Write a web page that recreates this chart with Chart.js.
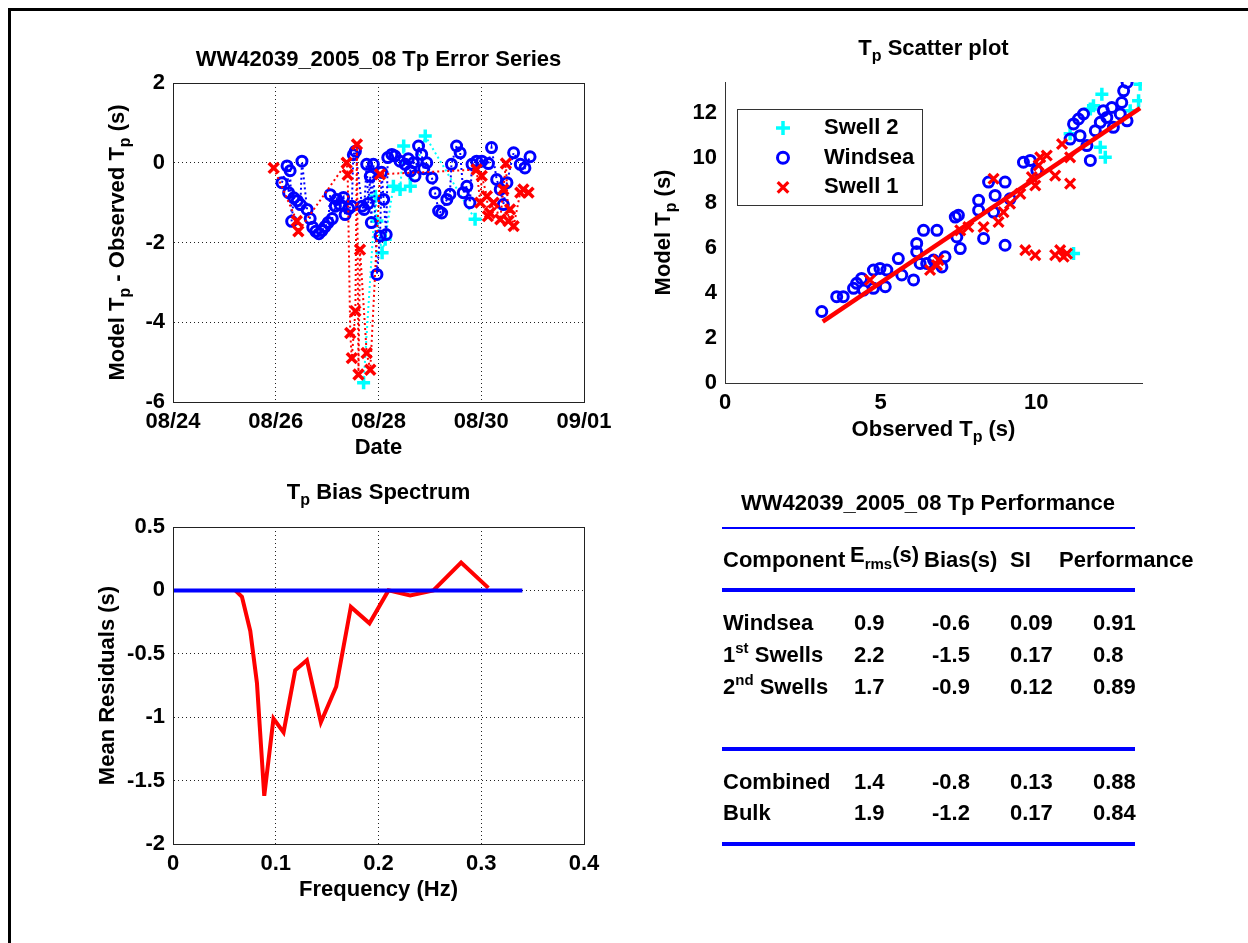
<!DOCTYPE html>
<html>
<head>
<meta charset="utf-8">
<title>WW42039_2005_08 Tp</title>
<script src="https://cdn.jsdelivr.net/npm/chart.js@4.4.0/dist/chart.umd.min.js"></script>
<style>
  body { margin: 0; background: #fff; }
  #page { position: relative; width: 1248px; height: 943px; overflow: hidden; background: #fff;
          font-family: 'Liberation Sans', Arial, Helvetica, sans-serif; font-weight: bold; font-size: 22px; color: #000; }
  #page canvas { position: absolute; left: 0; top: 0; }
  #frame { position: absolute; left: 8px; top: 8px; width: 1400px; height: 1100px;
           border-top: 3px solid #000; border-left: 3px solid #000; }
  .cell { position: absolute; height: 26px; line-height: 26px; white-space: nowrap; }
  .sup { position: relative; top: -9px; font-size: 15px; }
  .sub { position: relative; top: 7px; font-size: 15px; }
  .rule { position: absolute; background: #0000ff; }
</style>
</head>
<body>
<div id="page">
  <div id="frame"></div>
  <canvas id="errChart" width="1248" height="943"></canvas>
  <canvas id="scatChart" width="1248" height="943"></canvas>
  <canvas id="biasChart" width="1248" height="943"></canvas>
  <div id="perf"></div>
</div>
<script>
// ---- error series (day of August, model - observed Tp) ----
const dateTicks = ['08/24', '08/26', '08/28', '08/30', '09/01'];

const windseaDay = [26.12, 26.22, 26.25, 26.28, 26.31, 26.35, 26.42, 26.48, 26.51, 26.61, 26.67, 26.72, 26.78, 26.84, 26.90,
  26.96, 27.02, 27.06, 27.10, 27.16, 27.19, 27.25, 27.32, 27.35, 27.42, 27.48, 27.51, 27.55, 27.68, 27.72, 27.77, 27.80,
  27.84, 27.86, 27.90, 27.97, 28.03, 28.06, 28.10, 28.15, 28.18, 28.26, 28.32, 28.42, 28.52, 28.58, 28.62, 28.68, 28.71,
  28.78, 28.84, 28.88, 28.94, 29.04, 29.10, 29.17, 29.23, 29.33, 29.39, 29.42, 29.52, 29.59, 29.65, 29.72, 29.78, 29.82,
  29.91, 30.01, 30.14, 30.20, 30.30, 30.37, 30.43, 30.50, 30.63, 30.76, 30.85, 30.95];
const windseaErr = [-0.50, -0.08, -0.75, -0.20, -1.47, -0.88, -0.95, -1.05, 0.04, -1.17, -1.40, -1.62, -1.72, -1.78, -1.70,
  -1.60, -1.50, -0.80, -1.40, -1.09, -0.92, -1.05, -0.87, -1.30, -1.15, -1.09, 0.20, 0.29, -1.09, -1.17, -0.04, -1.02,
  -0.34, -1.50, -0.04, -2.80, -1.84, -0.24, -0.92, -1.80, 0.13, 0.21, 0.17, 0.04, -0.04, 0.10, -0.21, 0.00, -0.33,
  0.42, 0.21, -0.15, 0.00, -0.38, -0.75, -1.21, -1.26, -0.92, -0.79, -0.04, 0.42, 0.25, -0.75, -0.59, -1.00, -0.04,
  0.04, 0.04, -0.02, 0.38, -0.42, -0.67, -1.05, -0.50, 0.25, -0.04, -0.13, 0.15];

const swell1Day = [25.96, 26.41, 26.44, 27.38, 27.40, 27.45, 27.48, 27.55, 27.58, 27.61, 27.64, 27.77, 27.84, 28.03,
  29.91, 29.98, 30.01, 30.11, 30.13, 30.17, 30.24, 30.37, 30.43, 30.48, 30.53, 30.56, 30.63, 30.76, 30.82, 30.92];
const swell1Err = [-0.13, -1.46, -1.72, 0.00, -0.30, -4.27, -4.90, -3.72, 0.46, -5.31, -2.18, -4.77, -5.19, -0.29,
  -0.17, -1.00, -0.33, -0.84, -1.34, -1.26, -1.00, -1.42, -0.67, -0.02, -1.46, -1.17, -1.59, -0.75, -0.67, -0.75];

const swell2Day = [27.71, 27.94, 27.97, 28.07, 28.13, 28.29, 28.42, 28.49, 28.62, 28.91, 29.88];
const swell2Err = [-5.52, -0.84, -1.46, -2.26, -1.92, -0.59, -0.67, 0.42, -0.59, 0.67, -1.42];

// ---- scatter (observed Tp vs model Tp) ----
const windseaObs = [3.11, 3.59, 3.80, 4.13, 4.23, 4.39, 4.45, 4.77, 4.77, 4.98, 5.20, 5.15, 5.57, 5.68, 6.06, 6.16, 6.16,
  6.38, 6.27, 6.48, 6.70, 6.81, 6.97, 7.07, 7.40, 7.50, 7.45, 7.56, 8.15, 8.15, 8.31, 8.47, 8.68, 8.63, 9.00, 9.00, 9.16,
  9.59, 9.81, 10.02, 11.09, 11.20, 11.36, 11.52, 11.41, 11.63, 11.74, 11.90, 12.06, 12.16, 12.27, 12.43, 12.48, 12.70,
  12.75, 12.81, 12.92, 12.92];
const windseaMod = [3.17, 3.83, 3.83, 4.20, 4.42, 4.64, 4.12, 5.01, 4.20, 5.08, 5.01, 4.27, 5.52, 4.79, 4.57, 6.19, 5.82,
  6.77, 5.30, 5.30, 5.45, 6.77, 5.15, 5.60, 7.36, 7.44, 6.48, 5.96, 8.10, 7.66, 6.41, 8.91, 8.32, 7.58, 8.91, 6.11, 8.17,
  9.79, 9.87, 9.43, 10.82, 11.49, 11.71, 11.93, 10.97, 10.53, 9.87, 11.19, 11.56, 12.08, 11.78, 12.22, 11.34, 11.93,
  12.44, 12.96, 13.33, 11.63];

const swell1Obs = [4.66, 6.59, 6.86, 6.81, 7.56, 7.82, 8.31, 8.63, 8.79, 8.95, 9.16, 9.49, 9.86, 9.97, 10.08, 10.13,
  10.34, 10.61, 10.83, 11.09, 11.09, 9.65, 9.97, 10.61, 10.77, 10.99, 10.88];
const swell1Mod = [4.57, 5.01, 5.45, 5.23, 6.77, 6.92, 6.92, 9.06, 7.14, 7.58, 7.95, 8.39, 9.13, 8.76, 9.65, 10.01,
  10.09, 9.20, 10.60, 8.84, 10.01, 5.89, 5.67, 5.67, 5.89, 5.74, 5.60];

const swell2Obs = [11.20, 11.09, 11.74, 12.11, 12.06, 12.22, 13.34, 13.29, 13.02, 11.84];
const swell2Mod = [5.74, 11.05, 12.15, 12.81, 10.46, 10.01, 13.25, 12.52, 12.08, 12.30];

const fitObs = [3.14, 13.34];
const fitMod = [2.72, 12.19];

// ---- bias spectrum ----
const biasFreq = [0.0606, 0.0671, 0.0752, 0.0817, 0.0888, 0.0978, 0.1076, 0.1189, 0.1303, 0.1439, 0.1588, 0.1731,
  0.1912, 0.2097, 0.2308, 0.2534, 0.2804, 0.3069];
const biasVal = [0, -0.05, -0.32, -0.73, -1.62, -1.01, -1.12, -0.63, -0.55, -1.04, -0.76, -0.13, -0.26, 0, -0.04, 0,
  0.22, 0.02];
const zeroFreq = [0, 0.34];
const zeroVal = [0, 0];

// ---- performance table ----
const perfComponents = ['Windsea', '1st Swells', '2nd Swells', 'Combined', 'Bulk'];
const perfErms = [0.9, 2.2, 1.7, 1.4, 1.9];
const perfBias = [-0.6, -1.5, -0.9, -0.8, -1.2];
const perfSI = [0.09, 0.17, 0.12, 0.13, 0.17];
const perfScore = [0.91, 0.8, 0.89, 0.88, 0.84];

const pts = (xs, ys) => xs.map((x, i) => ({ x: x, y: ys[i] }));
const plainNum = v => String(+(+v).toFixed(3));

Chart.defaults.font.family = "'Liberation Sans', Arial, Helvetica, sans-serif";
Chart.defaults.font.size = 22;
Chart.defaults.font.weight = 'bold';
Chart.defaults.color = '#000';

const MAIN_FONT = "bold 22px 'Liberation Sans', Arial, sans-serif";
const SUB_FONT = "bold 16px 'Liberation Sans', Arial, sans-serif";

// text with _{sub} parts, centred on (x, y)
function drawRich(ctx, text, x, y, rot) {
  const parts = text.split(/(_\{[^}]*\})/).filter(s => s).map(s =>
    s.startsWith('_{') ? { t: s.slice(2, -1), sub: true } : { t: s, sub: false });
  ctx.save();
  ctx.translate(x, y);
  ctx.rotate(rot || 0);
  ctx.fillStyle = '#000';
  ctx.textBaseline = 'middle';
  ctx.textAlign = 'left';
  let w = 0;
  parts.forEach(p => { ctx.font = p.sub ? SUB_FONT : MAIN_FONT; p.w = ctx.measureText(p.t).width; w += p.w; });
  let cx = -w / 2;
  parts.forEach(p => {
    ctx.font = p.sub ? SUB_FONT : MAIN_FONT;
    ctx.fillText(p.t, cx, p.sub ? 8 : 0);
    cx += p.w;
  });
  ctx.restore();
}

const richText = {
  id: 'richText',
  afterDraw(chart, args, o) {
    const a = chart.chartArea;
    const cx = (a.left + a.right) / 2, cy = (a.top + a.bottom) / 2;
    drawRich(chart.ctx, o.title, cx, o.titleY);
    drawRich(chart.ctx, o.xLabel, cx, o.xLabelY);
    drawRich(chart.ctx, o.yLabel, o.yLabelX, cy, -Math.PI / 2);
  }
};

const boxFrame = {
  id: 'boxFrame',
  afterDraw(chart) {
    const a = chart.chartArea, ctx = chart.ctx;
    ctx.save();
    ctx.strokeStyle = '#222';
    ctx.lineWidth = 1;
    ctx.strokeRect(Math.round(a.left) + 0.5, Math.round(a.top) + 0.5,
      Math.round(a.right - a.left), Math.round(a.bottom - a.top));
    ctx.restore();
  }
};

const boxLegend = {
  id: 'boxLegend',
  afterDraw(chart, args, o) {
    const a = chart.chartArea, ctx = chart.ctx;
    const x0 = a.left + o.dx, y0 = a.top + o.dy;
    ctx.save();
    ctx.fillStyle = '#fff';
    ctx.fillRect(x0, y0, o.w, o.h);
    ctx.strokeStyle = '#333';
    ctx.lineWidth = 1;
    ctx.strokeRect(Math.round(x0) + 0.5, Math.round(y0) + 0.5, o.w, o.h);
    const items = chart.data.datasets.filter(d => d.label).reverse();
    items.forEach((d, i) => {
      const y = y0 + 19 + i * 29.7;
      ctx.strokeStyle = d.borderColor;
      ctx.fillStyle = d.backgroundColor;
      ctx.lineWidth = d.pointBorderWidth;
      Chart.helpers.drawPoint(ctx, { pointStyle: d.pointStyle, radius: d.pointRadius + 0.5,
        borderWidth: d.pointBorderWidth, rotation: 0 }, x0 + 46, y);
      ctx.fillStyle = '#000';
      ctx.font = MAIN_FONT;
      ctx.textBaseline = 'middle';
      ctx.fillText(d.label, x0 + 87, y);
    });
    ctx.restore();
  }
};

const dotted = { dash: [1, 3], color: '#222' };
const baseOpts = {
  responsive: false, animation: false, events: [],
  plugins: { legend: { display: false }, tooltip: { enabled: false } }
};

// top left: error series
new Chart(document.getElementById('errChart'), {
  type: 'scatter',
  data: {
    datasets: [
      { label: 'Swell 1', data: pts(swell1Day, swell1Err), borderColor: '#ff0000', backgroundColor: '#ff0000',
        pointStyle: 'crossRot', pointRadius: 7, pointBorderWidth: 3.5, showLine: true, borderWidth: 2, borderDash: [2, 3] },
      { label: 'Windsea', data: pts(windseaDay, windseaErr), borderColor: '#0000ff', backgroundColor: 'rgba(0,0,0,0)',
        pointStyle: 'circle', pointRadius: 5, pointBorderWidth: 3, showLine: true, borderWidth: 2, borderDash: [2, 3] },
      { label: 'Swell 2', data: pts(swell2Day, swell2Err), borderColor: '#00ffff', backgroundColor: '#00ffff',
        pointStyle: 'cross', pointRadius: 6.5, pointBorderWidth: 3.5, showLine: true, borderWidth: 2, borderDash: [2, 3] }
    ]
  },
  options: Object.assign({}, baseOpts, {
    layout: { padding: { left: 0, top: 83, right: 1248 - 584, bottom: 943 - 402 - 40 } },
    plugins: Object.assign({}, baseOpts.plugins, {
      richText: { title: 'WW42039_2005_08 Tp Error Series', titleY: 60, xLabel: 'Date', xLabelY: 448,
        yLabel: 'Model T_{p} - Observed T_{p} (s)', yLabelX: 118 }
    }),
    scales: {
      x: { type: 'linear', min: 24, max: 32, afterFit: s => { s.height = 40; },
        ticks: { stepSize: 2, padding: 7, maxRotation: 0, callback: v => dateTicks[Math.round((v - 24) / 2)] },
        grid: { drawTicks: false, color: '#222' }, border: dotted },
      y: { min: -6, max: 2, afterFit: s => { s.width = 173; },
        ticks: { stepSize: 2, padding: 8, callback: plainNum },
        grid: { drawTicks: false, color: '#222' }, border: dotted }
    }
  }),
  plugins: [richText, boxFrame]
});

// top right: scatter plot
new Chart(document.getElementById('scatChart'), {
  type: 'scatter',
  data: {
    datasets: [
      { data: pts(fitObs, fitMod), borderColor: '#ff0000', backgroundColor: '#ff0000', showLine: true,
        borderWidth: 4.5, pointRadius: 0 },
      { label: 'Swell 1', data: pts(swell1Obs, swell1Mod), borderColor: '#ff0000', backgroundColor: '#ff0000',
        pointStyle: 'crossRot', pointRadius: 7, pointBorderWidth: 3.2, borderWidth: 3.2 },
      { label: 'Windsea', data: pts(windseaObs, windseaMod), borderColor: '#0000ff', backgroundColor: 'rgba(0,0,0,0)',
        pointStyle: 'circle', pointRadius: 5, pointBorderWidth: 3, borderWidth: 3 },
      { label: 'Swell 2', data: pts(swell2Obs, swell2Mod), borderColor: '#00ffff', backgroundColor: '#00ffff',
        pointStyle: 'cross', pointRadius: 6.5, pointBorderWidth: 3.5, borderWidth: 3.5 }
    ]
  },
  options: Object.assign({}, baseOpts, {
    layout: { padding: { left: 0, top: 82, right: 1248 - 1142, bottom: 943 - 383 - 40 } },
    plugins: Object.assign({}, baseOpts.plugins, {
      richText: { title: 'T_{p} Scatter plot', titleY: 49, xLabel: 'Observed T_{p} (s)', xLabelY: 430,
        yLabel: 'Model T_{p} (s)', yLabelX: 664 },
      boxLegend: { dx: 12, dy: 27, w: 185, h: 96 }
    }),
    scales: {
      x: { type: 'linear', min: 0, max: 13.4, afterFit: s => { s.height = 40; },
        ticks: { stepSize: 5, padding: 7, includeBounds: false, maxRotation: 0 },
        grid: { display: false, drawTicks: false }, border: { color: '#333' } },
      y: { min: 0, max: 13.35, afterFit: s => { s.width = 725; },
        ticks: { stepSize: 2, padding: 8, includeBounds: false },
        grid: { display: false, drawTicks: false }, border: { color: '#333' } }
    }
  }),
  plugins: [richText, boxLegend]
});

// bottom left: bias spectrum
new Chart(document.getElementById('biasChart'), {
  type: 'scatter',
  data: {
    datasets: [
      { data: pts(zeroFreq, zeroVal), borderColor: '#0000ff', showLine: true, borderWidth: 4, pointRadius: 0 },
      { data: pts(biasFreq, biasVal), borderColor: '#ff0000', showLine: true, borderWidth: 4, pointRadius: 0 }
    ]
  },
  options: Object.assign({}, baseOpts, {
    layout: { padding: { left: 0, top: 527, right: 1248 - 584, bottom: 943 - 844 - 40 } },
    plugins: Object.assign({}, baseOpts.plugins, {
      richText: { title: 'T_{p} Bias Spectrum', titleY: 493, xLabel: 'Frequency (Hz)', xLabelY: 890,
        yLabel: 'Mean Residuals (s)', yLabelX: 108 }
    }),
    scales: {
      x: { type: 'linear', min: 0, max: 0.4, afterFit: s => { s.height = 40; },
        ticks: { stepSize: 0.1, padding: 7, maxRotation: 0, callback: plainNum },
        grid: { drawTicks: false, color: '#222' }, border: dotted },
      y: { min: -2, max: 0.5, afterFit: s => { s.width = 173; },
        ticks: { stepSize: 0.5, padding: 8, callback: plainNum },
        grid: { drawTicks: false, color: '#222' }, border: dotted }
    }
  }),
  plugins: [richText, boxFrame]
});

// bottom right: performance table (HTML text)
const perf = document.getElementById('perf');
function cell(html, x, y, centre) {
  const d = document.createElement('div');
  d.className = 'cell';
  d.innerHTML = html;
  d.style.top = (y - 13) + 'px';
  if (centre) { d.style.left = (x - 300) + 'px'; d.style.width = '600px'; d.style.textAlign = 'center'; }
  else d.style.left = x + 'px';
  perf.appendChild(d);
}
function rule(y, h) {
  const d = document.createElement('div');
  d.className = 'rule';
  d.style.left = '722px'; d.style.width = '413px';
  d.style.top = (y - h / 2) + 'px'; d.style.height = h + 'px';
  perf.appendChild(d);
}
const colX = [723, 854, 932, 1010, 1093];
const rowY = [623, 655, 687, 782, 813];
cell('WW42039_2005_08 Tp Performance', 928, 503, true);
rule(528, 1.5);
cell('Component', 723, 560);
cell('<span style="position:relative;top:-5px">E<span class="sub">rms</span>(s)</span>', 850, 560);
cell('Bias(s)', 924, 560);
cell('SI', 1010, 560);
cell('Performance', 1059, 560);
rule(590, 4);
rule(748.5, 4);
rule(844, 4);
perfComponents.forEach((name, i) => {
  cell(name.replace(/^(\d)(st|nd)/, '$1<span class="sup">$2</span>'), colX[0], rowY[i]);
  cell(String(perfErms[i]), colX[1], rowY[i]);
  cell(String(perfBias[i]), colX[2], rowY[i]);
  cell(String(perfSI[i]), colX[3], rowY[i]);
  cell(String(perfScore[i]), colX[4], rowY[i]);
});
</script>
</body>
</html>
